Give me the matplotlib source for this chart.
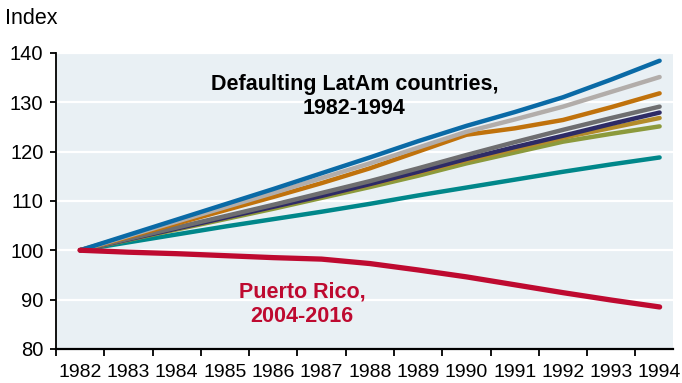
import numpy as np
import matplotlib.pyplot as plt
from matplotlib.ticker import FixedLocator

plt.rcParams['font.family'] = ['Liberation Sans', 'DejaVu Sans']

years = ['1982', '1983', '1984', '1985', '1986', '1987', '1988',
         '1989', '1990', '1991', '1992', '1993', '1994']

# GDP index, start year = 100
blue = [100, 103.1, 106.2, 109.3, 112.4, 115.6, 118.8, 122.1, 125.2, 128.0, 131.0, 134.6, 138.4]
lgray = [100, 102.9, 105.8, 108.7, 111.6, 114.6, 117.6, 120.8, 124.0, 126.5, 129.1, 132.1, 135.1]
orange = [100, 102.7, 105.4, 108.1, 110.8, 113.6, 116.6, 120.0, 123.4, 124.7, 126.4, 129.0, 131.8]
dgray = [100, 102.3, 104.6, 106.9, 109.2, 111.6, 114.0, 116.6, 119.3, 121.9, 124.4, 126.8, 129.1]
navy = [100, 102.2, 104.4, 106.6, 108.8, 111.0, 113.4, 115.9, 118.5, 120.9, 123.2, 125.6, 127.9]
gold = [100, 102.2, 104.4, 106.6, 108.8, 111.0, 113.3, 115.7, 118.2, 120.5, 122.8, 124.8, 126.8]
olive = [100, 102.1, 104.2, 106.3, 108.4, 110.6, 112.8, 115.1, 117.6, 119.8, 122.0, 123.6, 125.1]
teal = [100, 101.6, 103.2, 104.8, 106.3, 107.8, 109.4, 111.1, 112.7, 114.3, 115.9, 117.4, 118.8]
pr = [100, 99.6, 99.3, 98.9, 98.5, 98.2, 97.3, 96.0, 94.6, 93.0, 91.4, 89.9, 88.5]

latam = [(teal, '#00878A'), (olive, '#8C9A3C'), (gold, '#B38B2A'),
         (navy, '#2E2B66'), (dgray, '#6E6E70'), (orange, '#C0720C'),
         (lgray, '#B2ADAA'), (blue, '#0A6AA6')]

fig = plt.figure(figsize=(6.82, 3.83), dpi=100)
ax = fig.add_axes([0.082, 0.089, 0.905, 0.773])
ax.set_facecolor('#E9F0F4')

x = np.arange(len(years))
for vals, col in latam:
    ax.plot(x, vals, color=col, lw=3.2, solid_capstyle='round')
ax.plot(x, pr, color='#BE0A30', lw=3.8, solid_capstyle='round')

ax.set_xlim(-0.5, 12.28)
ax.set_ylim(80, 140)
ax.set_yticks(range(80, 141, 10))
ax.grid(axis='y', color='white', lw=1.6)
ax.set_axisbelow(True)

ax.set_xticks(x)
ax.set_xticklabels(years)
ax.xaxis.set_minor_locator(FixedLocator(x - 0.5))
ax.tick_params(axis='x', which='major', length=0, pad=11, labelsize=14)
ax.tick_params(axis='x', which='minor', length=5, width=1.3, color='black')
ax.tick_params(axis='y', length=4, width=1.3, pad=5, labelsize=14.5)

for s in ['top', 'right']:
    ax.spines[s].set_visible(False)
ax.spines['left'].set_linewidth(1.3)
ax.spines['bottom'].set_linewidth(1.6)

ax.text(5.68, 131.1, 'Defaulting LatAm countries,\n1982-1994', ha='center',
        va='center', fontsize=15.5, fontweight='bold', linespacing=1.2)
ax.text(4.6, 89.0, 'Puerto Rico,\n2004-2016', ha='center', va='center',
        fontsize=15.5, fontweight='bold', color='#BE0A30', linespacing=1.2)

fig.text(0.008, 0.952, 'Index', fontsize=15.5, va='center')

fig.savefig('out.png', dpi=100)
